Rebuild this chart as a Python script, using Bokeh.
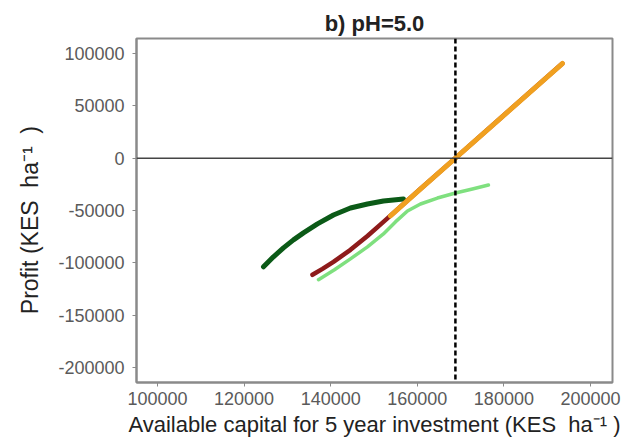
from bokeh.plotting import figure
from bokeh.models import Span, Range1d, FixedTicker, NumeralTickFormatter
from bokeh.embed import file_html
from bokeh.resources import INLINE

# Profit vs. available capital, pH = 5.0 scenario (values in KES per ha)
dark_green_capital = [124480, 126780, 129090, 131400, 133710, 136940, 140640,
                      144560, 148490, 152180, 156800]
dark_green_profit = [-103800, -94200, -85700, -78100, -71400, -62800, -54300,
                     -47600, -43800, -40900, -39000]

dark_red_capital = [135790, 138100, 140640, 144560, 148490, 152180, 160700,
                    168800, 179200, 193500]
dark_red_profit = [-111400, -105700, -99000, -87600, -74300, -60900, -29500,
                   0, 38100, 90400]

orange_capital = [153800, 160700, 168800, 179200, 193500]
orange_profit = [-55200, -29500, 0, 38100, 90400]

light_green_capital = [137180, 140870, 144560, 148490, 152180, 154950, 157730,
                       160730, 164650, 168810, 172730, 176430]
light_green_profit = [-116100, -106600, -96200, -84700, -72400, -60900, -50500,
                      -43800, -38100, -33300, -29500, -25700]

capital_threshold = 168800

x_ticks = [100000, 120000, 140000, 160000, 180000, 200000]
y_ticks = [-200000, -150000, -100000, -50000, 0, 50000, 100000]

FONT = "Liberation Sans"
GREY = "#8a8a8a"
NBSP = "\u00a0"

p = figure(
    width=638, height=442,
    x_range=Range1d(95150, 205080), y_range=Range1d(-214300, 114300),
    output_backend="svg", toolbar_location=None,
    title="b) pH=5.0",
    min_border_left=136, min_border_right=26,
    min_border_top=38, min_border_bottom=60,
)

p.title.align = "center"
p.title.text_font = FONT
p.title.text_font_size = "22px"
p.title.text_font_style = "bold"
p.title.text_color = "#222222"
p.title.offset = 0
p.title.standoff = 6

p.xgrid.visible = False
p.ygrid.visible = False
p.outline_line_color = GREY
p.outline_line_width = 2

for ax in (p.xaxis[0], p.yaxis[0]):
    ax.axis_line_color = GREY
    ax.axis_line_width = 2
    ax.major_tick_line_color = GREY
    ax.major_tick_out = 4
    ax.major_tick_in = 0
    ax.minor_tick_line_color = None
    ax.formatter = NumeralTickFormatter(format="0")
    ax.major_label_text_font = FONT
    ax.major_label_text_font_size = "18px"
    ax.major_label_text_color = "#5a5a5a"
    ax.axis_label_text_font = FONT
    ax.axis_label_text_font_style = "normal"
    ax.axis_label_text_color = "#222222"

p.xaxis[0].axis_label_text_font_size = "22px"
p.yaxis[0].axis_label_text_font_size = "23px"
p.xaxis[0].ticker = FixedTicker(ticks=x_ticks)
p.yaxis[0].ticker = FixedTicker(ticks=y_ticks)
p.xaxis[0].major_label_standoff = 5
p.yaxis[0].major_label_standoff = 8
p.xaxis[0].axis_label = f"Available capital for 5 year investment (KES{NBSP}{NBSP}ha\u207b\u00b9{NBSP})"
p.yaxis[0].axis_label = f"Profit (KES{NBSP}{NBSP}ha\u207b\u00b9{NBSP}{NBSP}){NBSP * 3}"
p.xaxis[0].axis_label_standoff = 4
p.yaxis[0].axis_label_standoff = 12

# zero-profit reference and break-even capital
p.add_layout(Span(location=0, dimension="width", line_color="#444444", line_width=1.5))
p.add_layout(Span(location=capital_threshold, dimension="height",
                  line_color="black", line_width=2.5, line_dash="5 3"))

p.line(dark_green_capital, dark_green_profit, line_color="#0b5a17", line_width=5,
       line_cap="round", line_join="round")
p.line(light_green_capital, light_green_profit, line_color="#7fe07f", line_width=3.5,
       line_cap="round", line_join="round")
p.line(dark_red_capital, dark_red_profit, line_color="#8e1b1b", line_width=4.5,
       line_cap="round", line_join="round")
p.line(orange_capital, orange_profit, line_color="#f0a020", line_width=5,
       line_cap="round", line_join="round")

open("out.html", "w").write(file_html(p, INLINE))
